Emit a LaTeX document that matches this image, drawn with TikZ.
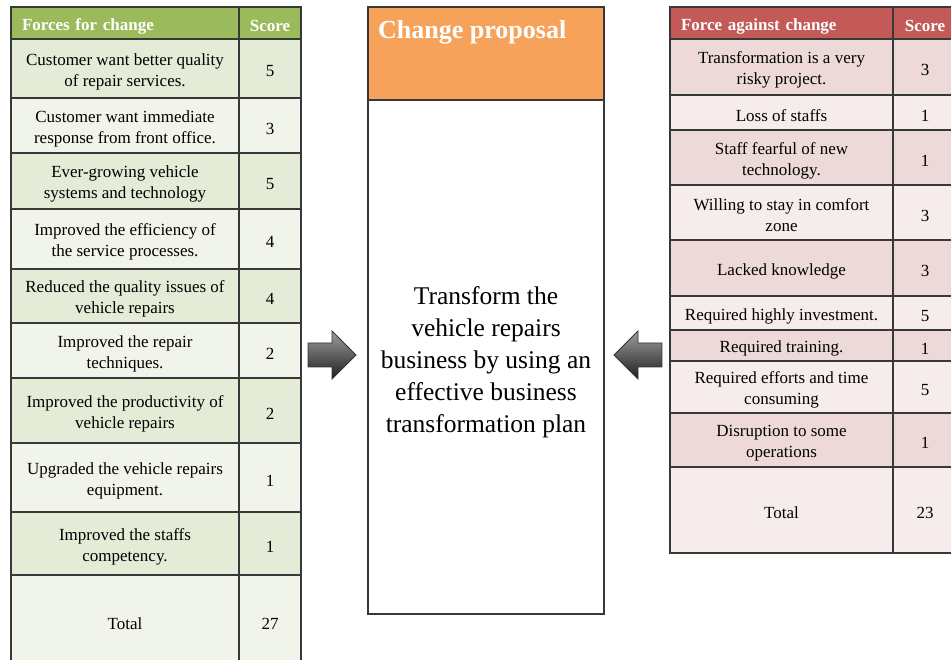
\documentclass[tikz,border=0pt]{standalone}
\usepackage{fontspec}
\setmainfont{Liberation Serif}
\definecolor{linec}{HTML}{383838}
\definecolor{ghead}{HTML}{9BBA5B}
\definecolor{gdark}{HTML}{E4EBD7}
\definecolor{glight}{HTML}{F1F4EB}
\definecolor{rhead}{HTML}{C35A57}
\definecolor{rdark}{HTML}{EED9D9}
\definecolor{rlight}{HTML}{F6ECEC}
\definecolor{orng}{HTML}{F6A25A}
\newcommand\tc[7]{\node[#6, minimum width={(#4)-(#2)}, minimum height={(#5)-(#3)}] (#1) at ({((#2)+(#4))/2},{((#3)+(#5))/2}) {};
  \node[#6, draw=none, fill=none, yshift=-3pt] (#1-t) at (#1.center) {#7};}
\begin{document}
\begin{tikzpicture}[x=1pt,y=-1pt,
  cell/.style={draw=linec, line width=1.3pt, inner sep=0pt, outer sep=0pt, align=center, text=black, font=\fontsize{17}{21}\selectfont},
  hdr/.style={cell, text=white, font=\bfseries\fontsize{17}{21}\selectfont},
  hdrl/.style={hdr, text width=206pt, inner xsep=11pt, align=left},
  arrowshape/.style={draw=black!80, line width=0.9pt, top color=black!38, bottom color=black!88}]
\useasboundingbox (0,0) rectangle (951,660);
% left table
\tc{lh}{11}{7}{239}{39}{hdrl, fill=ghead}{Forces for change}
\tc{lhs}{239}{7}{301}{39}{hdr, fill=ghead}{Score}
\tc{l1}{11}{39}{239}{98}{cell, fill=gdark}{Customer want better quality\\of repair services.}
\tc{l1s}{239}{39}{301}{98}{cell, fill=gdark}{5}
\tc{l2}{11}{98}{239}{153}{cell, fill=glight}{Customer want immediate\\response from front office.}
\tc{l2s}{239}{98}{301}{153}{cell, fill=glight}{3}
\tc{l3}{11}{153}{239}{209}{cell, fill=gdark}{Ever-growing vehicle\\systems and technology}
\tc{l3s}{239}{153}{301}{209}{cell, fill=gdark}{5}
\tc{l4}{11}{209}{239}{269}{cell, fill=glight}{Improved the efficiency of\\the service processes.}
\tc{l4s}{239}{209}{301}{269}{cell, fill=glight}{4}
\tc{l5}{11}{269}{239}{323}{cell, fill=gdark}{Reduced the quality issues of\\vehicle repairs}
\tc{l5s}{239}{269}{301}{323}{cell, fill=gdark}{4}
\tc{l6}{11}{323}{239}{378}{cell, fill=glight}{Improved the repair\\techniques.}
\tc{l6s}{239}{323}{301}{378}{cell, fill=glight}{2}
\tc{l7}{11}{378}{239}{443}{cell, fill=gdark}{Improved the productivity of\\vehicle repairs}
\tc{l7s}{239}{378}{301}{443}{cell, fill=gdark}{2}
\tc{l8}{11}{443}{239}{512}{cell, fill=glight}{Upgraded the vehicle repairs\\equipment.}
\tc{l8s}{239}{443}{301}{512}{cell, fill=glight}{1}
\tc{l9}{11}{512}{239}{575}{cell, fill=gdark}{Improved the staffs\\competency.}
\tc{l9s}{239}{512}{301}{575}{cell, fill=gdark}{1}
\tc{lt}{11}{575}{239}{667}{cell, fill=glight}{Total}
\tc{lts}{239}{575}{301}{667}{cell, fill=glight}{27}
% centre box
\node[cell, line width=1.6pt, fill=orng, minimum width=236, minimum height=93] (ch) at (486,53.5) {};
\node[anchor=base west, inner sep=0pt, text=white, font=\bfseries\fontsize{26}{30}\selectfont] (cptitle) at (378,39) {Change proposal};
\node[cell, line width=1.6pt, fill=white, minimum width=236, minimum height=514] (cb) at (486,357) {};
\node[align=center, inner sep=0pt, font=\fontsize{25.5}{32}\selectfont] (cbt) at (486,362) {Transform the\\vehicle repairs\\business by using an\\effective business\\transformation plan};
% right table
\tc{rh}{670}{7}{893}{39}{hdrl, text width=201pt, fill=rhead}{Force against change}
\tc{rhs}{893}{7}{957}{39}{hdr, fill=rhead}{Score}
\tc{r1}{670}{39}{893}{95}{cell, fill=rdark}{Transformation is a very\\risky project.}
\tc{r1s}{893}{39}{957}{95}{cell, fill=rdark}{3}
\tc{r2}{670}{95}{893}{130}{cell, fill=rlight}{Loss of staffs}
\tc{r2s}{893}{95}{957}{130}{cell, fill=rlight}{1}
\tc{r3}{670}{130}{893}{185}{cell, fill=rdark}{Staff fearful of new\\technology.}
\tc{r3s}{893}{130}{957}{185}{cell, fill=rdark}{1}
\tc{r4}{670}{185}{893}{240}{cell, fill=rlight}{Willing to stay in comfort\\zone}
\tc{r4s}{893}{185}{957}{240}{cell, fill=rlight}{3}
\tc{r5}{670}{240}{893}{296}{cell, fill=rdark}{Lacked knowledge}
\tc{r5s}{893}{240}{957}{296}{cell, fill=rdark}{3}
\tc{r6}{670}{296}{893}{330}{cell, fill=rlight}{Required highly investment.}
\tc{r6s}{893}{296}{957}{330}{cell, fill=rlight}{5}
\tc{r7}{670}{330}{893}{361}{cell, fill=rdark}{Required training.}
\tc{r7s}{893}{330}{957}{361}{cell, fill=rdark}{1}
\tc{r8}{670}{361}{893}{413}{cell, fill=rlight}{Required efforts and time\\consuming}
\tc{r8s}{893}{361}{957}{413}{cell, fill=rlight}{5}
\tc{r9}{670}{413}{893}{467}{cell, fill=rdark}{Disruption to some\\operations}
\tc{r9s}{893}{413}{957}{467}{cell, fill=rdark}{1}
\tc{rt}{670}{467}{893}{553}{cell, fill=rlight}{Total}
\tc{rts}{893}{467}{957}{553}{cell, fill=rlight}{23}
% block arrows
\path[arrowshape] (308,343) -- (332,343) -- (332,331) -- (356,355) -- (332,379) -- (332,367) -- (308,367) -- cycle;
\path[arrowshape] (662,343) -- (638,343) -- (638,331) -- (614,355) -- (638,379) -- (638,367) -- (662,367) -- cycle;
\end{tikzpicture}
\end{document}
